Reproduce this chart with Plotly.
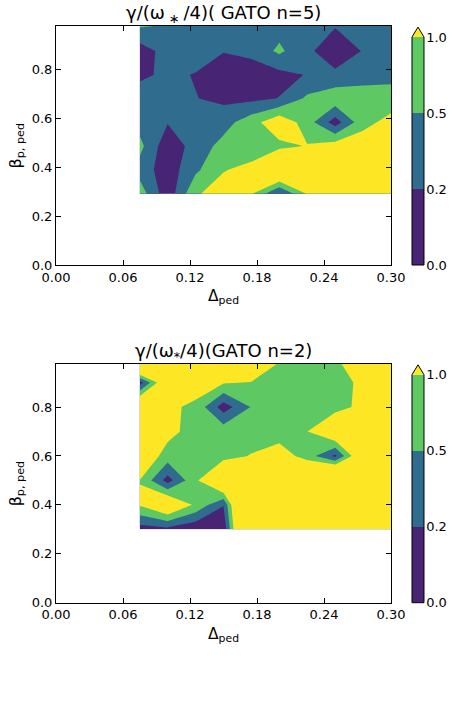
import numpy as np
import plotly.graph_objects as go

W, H = 454, 710

# ---------------- data ----------------
delta_ped = [0.075, 0.1, 0.125, 0.15, 0.175, 0.2, 0.225, 0.25, 0.275, 0.3]
beta_n5 = [0.2925, 0.39, 0.4875, 0.585, 0.6825, 0.78, 0.8775, 0.98]
beta_n2 = [0.3, 0.4, 0.5, 0.6, 0.7, 0.8, 0.9, 0.976]

# gamma/(omega*/4), rows = beta (bottom -> top), cols = delta_ped
gamma_n5 = [
    [0.775, 0.066, 0.95, 1.2, 1.05, 0.18, 1.05, 1.4, 1.4, 1.4],
    [0.38, 0.084, 0.44, 0.975, 1.13, 2.0, 1.5, 1.5, 1.5, 1.5],
    [0.65, 0.066, 0.323, 0.675, 0.75, 0.865, 1.025, 1.275, 1.3, 1.4],
    [0.38, 0.215, 0.35, 0.377, 0.795, 1.4, 0.75, 0.1, 0.835, 1.17],
    [0.35, 0.32, 0.209, 0.156, 0.156, 0.209, 0.6, 0.85, 0.8, 0.725],
    [0.16, 0.26, 0.19, 0.08, 0.08, 0.14, 0.215, 0.26, 0.35, 0.41],
    [0.1, 0.32, 0.35, 0.215, 0.29, 0.6, 0.26, 0.08, 0.215, 0.35],
    [0.55, 0.47, 0.38, 0.35, 0.35, 0.38, 0.32, 0.215, 0.32, 0.38],
]
gamma_n2 = [
    [0.1, 0.14, 0.04, 0.04, 3.5, 2.5, 2.5, 2.5, 2.5, 2.5],
    [1.05, 1.75, 0.9, 0.215, 3.5, 2.5, 2.5, 2.5, 2.5, 2.5],
    [0.99, 0.12, 0.89, 2.0, 1.5, 1.75, 2.2, 3.0, 2.0, 2.0],
    [1.55, 0.75, 0.75, 0.8, 1.03, 1.325, 0.755, 0.16, 1.75, 1.75],
    [2.0, 1.195, 0.75, 0.8, 0.75, 0.7, 0.99, 1.68, 1.5, 1.75],
    [2.0, 1.125, 0.875, 0.1, 0.525, 0.7, 0.75, 0.8, 1.14, 1.5],
    [0.1, 1.75, 1.3, 1.05, 0.975, 0.75, 0.65, 0.7, 1.16, 1.5],
    [2.75, 2.0, 1.75, 1.5, 1.5, 0.95, 0.75, 0.8, 1.67, 1.75],
]

levels = [0.0, 0.2, 0.5, 1.0]
level_labels = ["0.0", "0.2", "0.5", "1.0"]
x_ticks = [0.0, 0.06, 0.12, 0.18, 0.24, 0.30]
y_ticks = [0.0, 0.2, 0.4, 0.6, 0.8]

titles = ["γ/(ω<sub> ∗ </sub>/4)( GATO n=5)", "γ/(ω<sub>*</sub>/4)(GATO n=2)"]

# ---------------- style ----------------
PURPLE, TEAL, GREEN, YELLOW = "#482475", "#2f6c8e", "#5ec962", "#fde725"
FONT = "DejaVu Sans"
band_colors = [PURPLE, TEAL, GREEN, YELLOW]
nlev = len(levels)


def to_index(z):
    """map values onto level-index space so non-uniform levels become uniform"""
    z = np.asarray(z, float)
    lin = np.interp(z, levels, np.arange(nlev))
    over = (nlev - 1) + (z - levels[-1]) / (levels[-1] - levels[-2])
    return np.where(z <= levels[-1], lin, over)


# stepped colorscale: fill colours are sampled at s = 0.25, 0.5, 0.75, 1.0
cs = []
edges = [0.0, 0.375, 0.625, 0.875, 1.0]
for i, c in enumerate(band_colors):
    cs.append([edges[i], c])
    cs.append([edges[i + 1], c])

fig = go.Figure()

panels = [
    dict(beta=beta_n5, z=gamma_n5, top=26, bottom=265, ax="", cbax="3"),
    dict(beta=beta_n2, z=gamma_n2, top=364, bottom=602.7, ax="2", cbax="4"),
]

ax_left, ax_right = 56, 391
cb_center, cb_w = 418, 12
cb_pad = 0.1
cb_lo, cb_hi = -0.05, 3.2
cb_unit = 76.0
tri_h = 0.13

for k, p in enumerate(panels):
    xa = "x" + p["ax"]
    ya = "y" + p["ax"]
    fig.add_trace(go.Contour(
        x=delta_ped, y=p["beta"], z=to_index(p["z"]),
        contours=dict(start=0, end=nlev - 1, size=1, coloring="fill", showlines=False),
        line=dict(width=0, smoothing=0),
        colorscale=cs, showscale=False, hoverinfo="skip",
        xaxis=xa, yaxis=ya,
    ))
    # custom colorbar
    xc = "x" + p["cbax"]
    yc = "y" + p["cbax"]
    nb = nlev - 1
    fig.add_trace(go.Heatmap(
        z=[[i] for i in range(nb)], x=[0], y=[i + 0.5 for i in range(nb)],
        colorscale=[[0, PURPLE], [1 / 3, PURPLE], [1 / 3, TEAL], [2 / 3, TEAL],
                    [2 / 3, GREEN], [1, GREEN]],
        zmin=0, zmax=nb - 1, showscale=False, hoverinfo="skip",
        xaxis=xc, yaxis=yc,
    ))
    fig.add_trace(go.Scatter(
        x=[-0.5, 0.5, 0, -0.5], y=[nb, nb, nb + tri_h, nb], fill="toself",
        fillcolor=YELLOW, mode="lines", line=dict(width=0), hoverinfo="skip",
        showlegend=False, xaxis=xc, yaxis=yc,
    ))
    fig.add_trace(go.Scatter(
        x=[-0.5, 0.5, 0.5, 0, -0.5, -0.5], y=[0, 0, nb, nb + tri_h, nb, 0],
        mode="lines", line=dict(color="black", width=1), hoverinfo="skip",
        showlegend=False, xaxis=xc, yaxis=yc,
    ))

    ymax = p["beta"][-1]
    dom_y = [1 - p["bottom"] / H, 1 - p["top"] / H]
    axis_common = dict(showline=True, linecolor="black", linewidth=1, mirror="ticks",
                       ticks="inside", ticklen=5, tickcolor="black", showgrid=False,
                       zeroline=False, automargin=False,
                       tickfont=dict(family=FONT, size=13, color="black"))
    fig.update_layout(**{
        "xaxis" + p["ax"]: dict(domain=[ax_left / W, ax_right / W], range=[0, 0.3],
                                tickvals=x_ticks, ticktext=[f"{v:.2f}" for v in x_ticks],
                                anchor=ya, **axis_common),
        "yaxis" + p["ax"]: dict(domain=dom_y, range=[0, ymax], tickvals=y_ticks,
                                ticktext=[f"{v:.1f}" for v in y_ticks],
                                anchor=xa, **axis_common),
    })
    # colorbar axes
    y0px = p["bottom"] + (0 - cb_lo) * cb_unit
    y1px = p["bottom"] - (cb_hi) * cb_unit
    half = cb_w * (0.5 + cb_pad)
    fig.update_layout(**{
        "xaxis" + p["cbax"]: dict(domain=[(cb_center - half) / W, (cb_center + half) / W],
                                  range=[-0.5 - cb_pad, 0.5 + cb_pad], visible=False,
                                  anchor=yc, automargin=False),
        "yaxis" + p["cbax"]: dict(domain=[1 - y0px / H, 1 - y1px / H], range=[cb_lo, cb_hi],
                                  tickvals=list(range(nlev)), ticktext=level_labels,
                                  side="right", anchor=xc, showline=False, ticks="",
                                  showgrid=False, zeroline=False, automargin=False,
                                  tickfont=dict(family=FONT, size=13, color="black")),
    })

    cx = (ax_left + ax_right) / 2 / W
    fig.add_annotation(text=titles[k], x=cx, y=1 - (p["top"] - 12) / H, xref="paper",
                       yref="paper", xanchor="center", yanchor="middle", showarrow=False,
                       font=dict(family=FONT, size=18, color="black"))
    fig.add_annotation(text="Δ<sub>ped</sub>", x=cx, y=1 - (p["bottom"] + 32) / H,
                       xref="paper", yref="paper", xanchor="center", yanchor="middle",
                       showarrow=False, font=dict(family=FONT, size=15.5, color="black"))
    fig.add_annotation(text="β<sub>p, ped</sub>", x=16 / W,
                       y=1 - (p["top"] + p["bottom"]) / 2 / H, xref="paper", yref="paper",
                       xanchor="center", yanchor="middle", textangle=-90, showarrow=False,
                       font=dict(family=FONT, size=16, color="black"))

fig.update_layout(width=W, height=H, autosize=False,
                  margin=dict(l=0, r=0, t=0, b=0, pad=0, autoexpand=False),
                  paper_bgcolor="white", plot_bgcolor="white", showlegend=False,
                  font=dict(family=FONT, color="black"))

fig.write_html("out.html", config={"responsive": False},
               post_script="document.body.style.margin='0';document.body.style.padding='0';")
